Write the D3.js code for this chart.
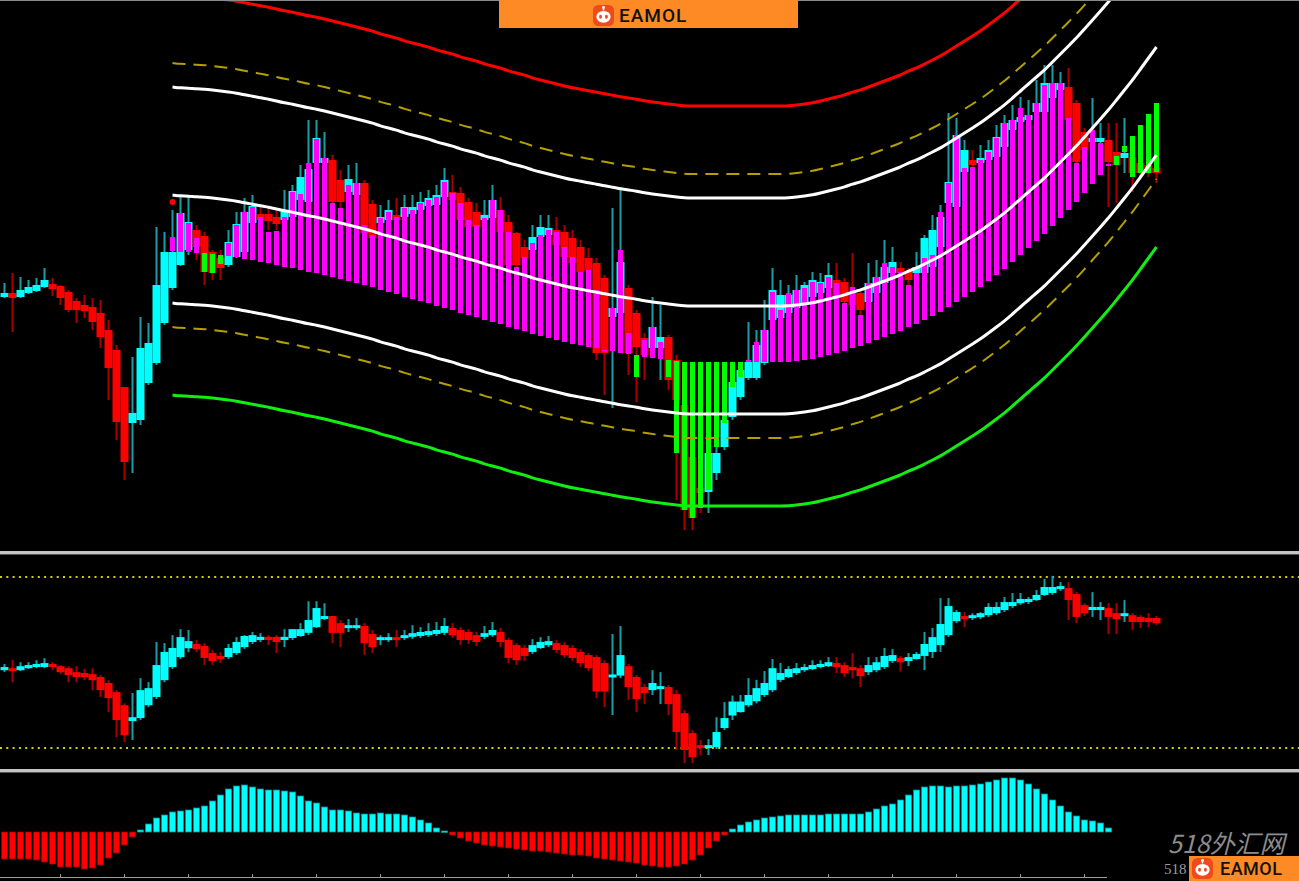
<!DOCTYPE html>
<html><head><meta charset="utf-8">
<script src="https://cdn.jsdelivr.net/npm/d3@7/dist/d3.min.js"></script>
<style>html,body{margin:0;padding:0;background:#000;overflow:hidden}</style>
</head><body>
<svg id="c" width="1299" height="881"></svg>
<script>
// ---------- MAIN PANEL: Heiken-Ashi style candles ----------
const haOpen = [1.2703,1.2707,1.2703,1.2707,1.2709,1.2713,1.2716,1.2714,1.2708,1.2699,
1.2695,1.2693,1.2687,1.2670,1.2650,1.2613,1.2577,1.2580,1.2617,1.2637,
1.2677,1.2712,1.2735,1.2750,1.2770,1.2764,1.2748,1.2742,1.2735,1.2743,
1.2748,1.2777,1.2786,1.2786,1.2783,1.2780,1.2783,1.2800,1.2798,1.2837,
1.2837,1.2840,1.2820,1.2808,1.2805,1.2817,1.2796,1.2777,1.2780,1.2785,
1.2783,1.2786,1.2790,1.2794,1.2795,1.2803,1.2808,1.2807,1.2798,1.2788,
1.2780,1.2782,1.2790,1.2778,1.2767,1.2753,1.2750,1.2763,1.2765,1.2770,
1.2768,1.2762,1.2753,1.2742,1.2737,1.2722,1.2683,1.2687,1.2712,1.2687,
1.2662,1.2652,1.2652,1.2663,1.2640,1.2595,1.2543,1.2512,1.2508,1.2527,
1.2553,1.2583,1.2603,1.2622,1.2622,1.2637,1.2680,1.2682,1.2687,1.2692,
1.2697,1.2703,1.2707,1.2712,1.2720,1.2718,1.2707,1.2707,1.2698,1.2707,
1.2717,1.2727,1.2732,1.2728,1.2727,1.2727,1.2733,1.2753,1.2797,1.2793,
1.2828,1.2840,1.2837,1.2840,1.2843,1.2853,1.2870,1.2878,1.2880,1.2888,
1.2888,1.2902,1.2910,1.2913,1.2897,1.2868,1.2858,1.2858,1.2860,1.2848,
1.2842,1.2843,1.2837,1.2835,1.2832];
const haClose = [1.2707,1.2702,1.2710,1.2713,1.2715,1.2720,1.2711,1.2702,1.2690,1.2690,
1.2689,1.2678,1.2663,1.2632,1.2578,1.2538,1.2587,1.2652,1.2657,1.2715,
1.2748,1.2748,1.2787,1.2778,1.2753,1.2728,1.2727,1.2732,1.2758,1.2776,
1.2788,1.2794,1.2780,1.2779,1.2776,1.2788,1.2809,1.2823,1.2831,1.2862,
1.2842,1.2798,1.2798,1.2821,1.2817,1.2767,1.2762,1.2783,1.2790,1.2780,
1.2793,1.2793,1.2798,1.2802,1.2805,1.2820,1.2800,1.2780,1.2773,1.2773,
1.2785,1.2800,1.2768,1.2735,1.2735,1.2742,1.2763,1.2773,1.2772,1.2755,
1.2743,1.2737,1.2728,1.2730,1.2647,1.2647,1.2692,1.2738,1.2647,1.2653,
1.2645,1.2673,1.2663,1.2620,1.2600,1.2490,1.2482,1.2507,1.2547,1.2547,
1.2580,1.2618,1.2630,1.2638,1.2655,1.2670,1.2710,1.2705,1.2705,1.2710,
1.2715,1.2720,1.2718,1.2725,1.2703,1.2698,1.2695,1.2690,1.2717,1.2723,
1.2733,1.2738,1.2727,1.2720,1.2733,1.2762,1.2770,1.2783,1.2818,1.2865,
1.2850,1.2835,1.2842,1.2850,1.2863,1.2877,1.2880,1.2883,1.2885,1.2897,
1.2917,1.2917,1.2917,1.2880,1.2838,1.2850,1.2862,1.2862,1.2838,1.2835,
1.2847,1.2827,1.2827,1.2827,1.2827];
const barHigh = [1.2717,1.2727,1.2723,1.2720,1.2722,1.2732,1.2722,1.2715,1.2710,1.2702,
1.2705,1.2702,1.2700,1.2680,1.2655,1.2600,1.2643,1.2683,1.2677,1.2773,
1.2768,1.2790,1.2805,1.2803,1.2775,1.2768,1.2750,1.2750,1.2770,1.2788,
1.2802,1.2805,1.2795,1.2792,1.2790,1.2810,1.2815,1.2835,1.2880,1.2880,
1.2868,1.2845,1.2830,1.2835,1.2837,1.2820,1.2800,1.2795,1.2800,1.2802,
1.2805,1.2805,1.2808,1.2810,1.2815,1.2832,1.2825,1.2813,1.2802,1.2797,
1.2800,1.2815,1.2803,1.2785,1.2768,1.2760,1.2775,1.2785,1.2785,1.2783,
1.2775,1.2770,1.2760,1.2752,1.2742,1.2725,1.2792,1.2813,1.2715,1.2690,
1.2667,1.2703,1.2695,1.2665,1.2645,1.2600,1.2550,1.2520,1.2550,1.2560,
1.2585,1.2625,1.2635,1.2678,1.2670,1.2700,1.2732,1.2720,1.2715,1.2725,
1.2718,1.2728,1.2727,1.2737,1.2737,1.2722,1.2747,1.2710,1.2737,1.2740,
1.2760,1.2753,1.2738,1.2732,1.2748,1.2765,1.2785,1.2795,1.2887,1.2882,
1.2860,1.2850,1.2855,1.2860,1.2875,1.2885,1.2895,1.2903,1.2900,1.2920,
1.2935,1.2935,1.2928,1.2932,1.2900,1.2872,1.2902,1.2877,1.2877,1.2877,
1.2882,1.2850,1.2840,1.2837,1.2835];
const barLow = [1.2702,1.2668,1.2702,1.2706,1.2708,1.2712,1.2704,1.2695,1.2688,1.2677,
1.2682,1.2670,1.2652,1.2600,1.2560,1.2520,1.2527,1.2575,1.2615,1.2635,
1.2675,1.2710,1.2734,1.2745,1.2740,1.2715,1.2720,1.2720,1.2733,1.2742,
1.2747,1.2775,1.2772,1.2770,1.2770,1.2778,1.2782,1.2798,1.2797,1.2835,
1.2835,1.2790,1.2790,1.2805,1.2803,1.2760,1.2755,1.2775,1.2775,1.2775,
1.2780,1.2784,1.2788,1.2792,1.2793,1.2798,1.2797,1.2778,1.2770,1.2770,
1.2778,1.2780,1.2765,1.2732,1.2730,1.2738,1.2748,1.2760,1.2760,1.2752,
1.2740,1.2735,1.2725,1.2727,1.2640,1.2605,1.2592,1.2685,1.2625,1.2598,
1.2620,1.2650,1.2620,1.2610,1.2500,1.2470,1.2470,1.2487,1.2487,1.2520,
1.2550,1.2580,1.2600,1.2620,1.2620,1.2635,1.2675,1.2680,1.2685,1.2690,
1.2695,1.2700,1.2705,1.2710,1.2700,1.2695,1.2683,1.2685,1.2695,1.2705,
1.2715,1.2725,1.2715,1.2715,1.2725,1.2725,1.2730,1.2750,1.2795,1.2790,
1.2825,1.2825,1.2835,1.2838,1.2840,1.2850,1.2868,1.2875,1.2878,1.2885,
1.2885,1.2900,1.2908,1.2878,1.2835,1.2845,1.2855,1.2855,1.2793,1.2797,
1.2827,1.2808,1.2820,1.2823,1.2817];

// regression channel (starts at bar regStart)
const regStart = 21;
const regMid = [1.2805,1.2804,1.2804,1.2803,1.2803,1.2802,1.2801,1.2800,1.2799,
1.2797,1.2796,1.2794,1.2793,1.2791,1.2789,1.2788,1.2786,1.2784,1.2783,
1.2781,1.2779,1.2777,1.2775,1.2773,1.2771,1.2769,1.2766,1.2764,1.2762,
1.2759,1.2757,1.2755,1.2753,1.2750,1.2748,1.2746,1.2743,1.2741,1.2739,
1.2736,1.2734,1.2732,1.2729,1.2727,1.2725,1.2722,1.2720,1.2718,1.2716,
1.2714,1.2712,1.2711,1.2709,1.2708,1.2706,1.2705,1.2703,1.2702,1.2701,
1.2699,1.2698,1.2697,1.2696,1.2695,1.2694,1.2694,1.2694,1.2694,1.2694,
1.2694,1.2694,1.2694,1.2694,1.2694,1.2694,1.2694,1.2694,1.2694,1.2695,
1.2696,1.2697,1.2699,1.2701,1.2703,1.2705,1.2708,1.2710,1.2713,1.2716,
1.2719,1.2722,1.2725,1.2729,1.2732,1.2736,1.2740,1.2744,1.2749,1.2754,
1.2759,1.2764,1.2769,1.2775,1.2781,1.2787,1.2794,1.2801,1.2808,1.2815,
1.2822,1.2830,1.2838,1.2846,1.2854,1.2863,1.2872,1.2881,1.2890,1.2900,
1.2910,1.2920,1.2931,1.2942,1.2953];
// histogram end value for each bar (from regStart)
const histVal = [1.2763,1.2787,1.2777,1.2762,1.2728,1.2727,1.2736,1.2757,1.2775,
1.2788,1.2793,1.2783,1.2768,1.2769,1.2783,1.2808,1.2806,1.2837,1.2861,
1.2842,1.2797,1.2792,1.2815,1.2817,1.2775,1.2765,1.2782,1.2788,1.2783,
1.2792,1.2790,1.2797,1.2800,1.2803,1.2818,1.2807,1.2797,1.2780,1.2775,
1.2782,1.2800,1.2790,1.2768,1.2733,1.2743,1.2757,1.2765,1.2770,1.2768,
1.2753,1.2743,1.2728,1.2730,1.2710,1.2650,1.2692,1.2750,1.2667,1.2623,
1.2660,1.2673,1.2658,1.2623,1.2547,1.2490,1.2482,1.2492,1.2510,1.2553,
1.2577,1.2613,1.2623,1.2640,1.2658,1.2670,1.2708,1.2690,1.2707,1.2710,
1.2712,1.2718,1.2717,1.2723,1.2717,1.2697,1.2713,1.2685,1.2717,1.2723,
1.2737,1.2733,1.2728,1.2715,1.2727,1.2742,1.2745,1.2788,1.2817,1.2865,
1.2832,1.2833,1.2840,1.2848,1.2862,1.2877,1.2880,1.2892,1.2885,1.2897,
1.2915,1.2917,1.2917,1.2882,1.2837,1.2853,1.2870,1.2857,1.2836,1.2835,
1.2848,1.2823,1.2827,1.2827,1.2828];
const histOffset = 0.0056;                 // histogram baseline below regression line
const bandOffsets = [0.0200, 0.0132, 0.0108, 0, -0.0108, -0.0132, -0.0200];
const signalBars = [21];
const signalPrices = [1.2798];

// ---------- MIDDLE PANEL: oscillator candles ----------
const oscOpen = [47.3,48.0,47.3,48.0,48.4,48.4,49.5,48.7,48.0,46.6,
46.3,45.9,44.9,42.8,39.6,35.0,29.4,30.5,35.0,37.9,
43.8,48.4,51.9,55.0,56.5,55.8,53.3,52.3,51.9,53.3,
55.4,57.2,57.9,59.0,59.0,57.9,58.6,59.3,60.4,62.4,
65.6,66.3,63.8,62.1,62.4,62.8,60.0,58.2,57.9,58.9,
58.6,59.0,59.3,59.6,60.0,60.4,62.1,61.4,60.7,59.6,
59.0,59.6,60.7,57.9,56.1,55.1,53.7,55.1,56.1,56.8,
56.1,55.1,53.7,52.6,51.9,49.8,45.4,45.4,48.7,44.9,
41.4,40.3,41.4,41.4,38.9,32.2,25.2,21.0,20.3,20.3,
27.0,31.4,32.6,35.0,36.4,38.6,40.3,43.9,44.9,46.3,
47.3,47.7,48.4,48.7,49.8,49.1,48.4,48.0,46.6,47.3,
48.4,50.5,51.6,50.5,51.2,52.3,53.7,56.1,59.6,64.5,
66.3,65.9,65.9,66.6,67.3,68.4,69.8,70.8,71.2,71.9,
73.7,74.4,75.8,76.1,74.0,70.1,68.4,68.4,69.1,67.3,
66.3,66.6,66.0,65.6,65.6];
const oscClose = [48.4,47.0,48.7,49.1,49.5,49.8,48.4,46.6,45.6,44.9,
44.9,43.8,40.3,37.5,29.8,24.5,30.8,40.3,41.0,49.1,
53.7,55.1,58.9,57.5,54.7,51.6,50.5,51.2,55.1,57.2,
59.3,59.6,59.0,57.9,57.2,59.0,61.7,61.7,64.9,69.1,
66.3,60.4,60.4,63.1,63.1,56.8,55.4,58.9,58.9,57.9,
59.6,60.3,60.7,61.0,61.4,62.8,59.6,57.9,57.9,57.2,
60.3,61.4,57.2,51.6,50.8,52.3,56.1,57.2,57.5,54.4,
52.6,51.6,49.8,48.0,39.8,39.8,45.8,52.6,41.4,37.2,
39.3,42.8,41.7,35.4,25.6,19.3,16.8,20.3,21.0,25.6,
30.5,36.3,36.3,38.6,41.0,42.8,48.0,46.3,47.7,48.0,
48.4,49.1,49.5,50.1,48.4,46.3,47.3,45.2,49.1,50.1,
52.3,52.6,50.1,51.9,53.0,56.5,58.9,63.5,69.8,67.7,
65.2,66.6,67.3,69.5,69.5,71.2,71.2,72.3,72.3,73.7,
76.5,76.5,76.8,71.9,66.0,67.3,69.5,69.5,66.0,65.2,
67.3,64.2,64.2,64.2,63.8];
const oscHigh = [49.5,51.0,50.1,50.1,50.8,51.5,50.1,49.1,48.7,48.7,
47.7,48.0,45.6,43.8,40.3,35.7,39.3,44.5,43.1,57.2,
56.8,59.6,61.7,61.4,57.9,56.8,54.4,53.6,56.5,58.9,
59.6,60.7,60.3,59.6,59.6,61.7,61.7,63.8,71.5,71.5,
70.8,66.3,64.9,65.2,65.6,63.8,61.4,59.6,60.3,61.4,
61.4,63.1,62.4,63.8,64.2,65.6,63.8,62.4,61.7,60.7,
62.8,64.2,62.1,58.6,56.8,56.1,58.2,58.9,59.3,57.9,
57.2,56.1,54.7,53.3,52.6,50.8,60.0,62.8,49.5,45.6,
42.4,47.3,46.6,42.1,40.3,33.3,26.3,22.8,23.1,30.8,
36.1,38.4,38.6,44.5,43.9,47.0,51.2,49.8,48.7,49.8,
49.5,50.8,50.8,51.9,51.9,50.1,53.3,49.1,51.9,51.9,
55.1,54.7,52.3,53.3,53.7,60.7,62.1,72.6,72.6,68.4,
67.7,67.3,67.7,70.8,71.2,73.0,74.4,74.4,73.0,75.4,
79.3,80.4,78.2,78.2,74.7,70.8,74.7,71.2,70.8,70.8,
71.9,67.3,66.6,67.3,66.3];
const oscLow = [46.7,43.1,47.0,47.7,48.0,48.0,47.3,45.9,43.1,43.1,
43.8,40.3,37.9,32.6,23.8,22.1,22.8,29.8,34.3,37.2,
43.1,47.7,51.2,53.6,53.6,49.1,49.1,49.8,51.2,52.6,
54.7,56.5,57.2,56.1,53.3,55.4,57.9,59.0,59.6,62.1,
64.9,56.8,55.4,60.7,61.4,52.6,53.3,56.1,57.2,55.4,
57.9,58.2,58.6,59.0,59.3,59.6,58.6,56.1,56.5,55.8,
58.2,59.0,55.4,49.8,49.1,50.5,53.0,54.7,55.4,53.3,
51.6,50.5,48.4,47.0,37.5,34.3,31.6,44.5,36.8,32.6,
35.4,38.6,35.4,31.5,19.3,14.7,14.7,17.5,17.5,19.6,
26.3,29.8,32.4,34.3,35.6,37.9,39.6,43.1,44.5,45.6,
46.7,47.3,48.0,48.4,46.3,44.9,44.5,41.4,45.6,46.6,
47.7,49.8,46.8,48.7,51.0,47.3,51.6,53.7,58.9,63.8,
62.4,64.9,65.2,65.9,66.6,67.7,69.1,70.2,70.5,71.6,
73.3,73.7,75.1,64.9,63.8,66.3,66.0,64.9,60.0,60.0,
64.2,61.4,62.1,62.4,63.1];
const oscLevels = [80, 20];

// ---------- BOTTOM PANEL: trend histogram ----------
const trendHist = [-2.7,-2.7,-2.7,-2.7,-2.8,-3.0,-3.2,-3.5,-3.5,-3.5,
-3.7,-3.6,-3.3,-2.6,-2.1,-1.3,-0.5,0.2,0.8,1.4,
1.7,2.0,2.1,2.2,2.4,2.6,3.1,3.7,4.3,4.6,
4.7,4.5,4.3,4.2,4.2,4.1,4.0,3.6,3.1,2.9,
2.5,2.2,2.2,2.1,1.9,1.8,1.8,1.9,1.8,1.8,
1.7,1.5,1.2,0.9,0.4,0.1,-0.3,-0.6,-0.9,-1.1,
-1.3,-1.4,-1.5,-1.6,-1.7,-1.8,-1.9,-1.9,-2.0,-2.1,
-2.2,-2.3,-2.3,-2.4,-2.6,-2.7,-2.8,-2.9,-3.0,-3.1,
-3.3,-3.4,-3.5,-3.5,-3.4,-3.2,-2.8,-2.3,-1.6,-0.9,
-0.3,0.3,0.7,1.0,1.2,1.4,1.5,1.6,1.7,1.7,
1.7,1.7,1.7,1.8,1.8,1.8,1.8,1.8,2.0,2.3,
2.6,2.8,3.2,3.7,4.2,4.5,4.6,4.6,4.5,4.6,
4.6,4.7,4.8,5.0,5.2,5.4,5.4,5.2,4.8,4.3,
3.8,3.2,2.6,2.0,1.6,1.2,1.1,0.9,0.4];

// ================= DRAWING =================
const W = 1299, H = 881;
const svg = d3.select('#c');
svg.append('rect').attr('width', W).attr('height', H).attr('fill', '#000');
const defs = svg.append('defs');
const clip = (id, y0, y1) => defs.append('clipPath').attr('id', id)
  .append('rect').attr('x', 0).attr('y', y0).attr('width', W).attr('height', y1 - y0);
clip('cMain', 0, 550); clip('cOsc', 555, 768); clip('cTr', 773, 877);

const N = haOpen.length;
const idx = d3.range(N);
const x = d3.scaleBand().domain(idx).range([0.5, 1160.5]).padding(0);
const bw = x.bandwidth();
const cx = i => x(i) + bw / 2;
const yMain = d3.scaleLinear().domain([1.2450, 1.3000]).range([550, 0]);
const yOsc = d3.scaleLinear().domain([20, 80]).range([748, 577]);
const yTr = d3.scaleLinear().domain([0, 1]).range([832, 822]);

const UP = '#00ffff', DN = '#ff0000', WUP = '#1a9ea6', WDN = '#a80000';

// ---- main panel ----
const gM = svg.append('g').attr('clip-path', 'url(#cMain)');
gM.selectAll('line.wk').data(idx).join('line').attr('class', 'wk')
  .attr('x1', cx).attr('x2', cx)
  .attr('y1', i => yMain(barHigh[i])).attr('y2', i => yMain(barLow[i]))
  .attr('stroke', i => haClose[i] >= haOpen[i] ? WUP : WDN).attr('stroke-width', 2);
gM.selectAll('rect.body').data(idx).join('rect').attr('class', 'body')
  .attr('x', i => x(i)).attr('width', bw)
  .attr('y', i => yMain(Math.max(haOpen[i], haClose[i])))
  .attr('height', i => Math.max(3, Math.abs(yMain(haOpen[i]) - yMain(haClose[i]))))
  .attr('fill', i => haClose[i] >= haOpen[i] ? UP : DN);

const regIdx = d3.range(regMid.length);
gM.selectAll('rect.hist').data(regIdx).join('rect').attr('class', 'hist')
  .each(function (k) {
    const i = k + regStart;
    const base = regMid[k] - histOffset;
    const v = histVal[k];
    const y1 = yMain(Math.max(v, base)), y2 = yMain(Math.min(v, base));
    d3.select(this).attr('x', x(i) + 1.5).attr('width', bw - 3)
      .attr('y', y1).attr('height', Math.max(1.5, y2 - y1))
      .attr('fill', v >= base ? '#ff00ff' : '#00ff00');
  });

const bandStyle = [
  {c: '#ff0000', w: 3, d: null}, {c: '#b3a000', w: 2, d: '13,8'}, {c: '#ffffff', w: 3, d: null},
  {c: '#ffffff', w: 3, d: null}, {c: '#ffffff', w: 3, d: null}, {c: '#b3a000', w: 2, d: '13,8'},
  {c: '#11ee11', w: 3, d: null}];
bandOffsets.forEach((off, b) => {
  const line = d3.line().x(k => cx(k + regStart)).y(k => yMain(regMid[k] + off)).curve(d3.curveBasis);
  gM.append('path').attr('d', line(regIdx)).attr('fill', 'none')
    .attr('stroke', bandStyle[b].c).attr('stroke-width', bandStyle[b].w)
    .attr('stroke-dasharray', bandStyle[b].d);
});
gM.selectAll('circle.sig').data(signalBars).join('circle')
  .attr('cx', cx).attr('cy', (d, k) => yMain(signalPrices[k])).attr('r', 3).attr('fill', '#ff0000');

// ---- separators ----
[551, 769].forEach(y => {
  svg.append('rect').attr('x', 0).attr('y', y).attr('width', W).attr('height', 3).attr('fill', '#c4c4c4');
  svg.append('line').attr('x1', 0).attr('x2', W).attr('y1', y + 3.5).attr('y2', y + 3.5).attr('stroke', '#555');
});
svg.append('line').attr('x1', 0).attr('x2', W).attr('y1', 0.5).attr('y2', 0.5).attr('stroke', '#8a8a8a');

// ---- oscillator panel ----
const gO = svg.append('g').attr('clip-path', 'url(#cOsc)');
oscLevels.forEach(l => gO.append('line').attr('x1', 0).attr('x2', W)
  .attr('y1', yOsc(l)).attr('y2', yOsc(l)).attr('stroke', '#d2d200')
  .attr('stroke-width', 2).attr('stroke-dasharray', '2,4.3'));
gO.selectAll('line.owk').data(idx).join('line').attr('class', 'owk')
  .attr('x1', cx).attr('x2', cx)
  .attr('y1', i => yOsc(oscHigh[i])).attr('y2', i => yOsc(oscLow[i]))
  .attr('stroke', i => oscClose[i] >= oscOpen[i] ? WUP : WDN).attr('stroke-width', 2);
gO.selectAll('rect.ob').data(idx).join('rect').attr('class', 'ob')
  .attr('x', i => x(i)).attr('width', bw)
  .attr('y', i => yOsc(Math.max(oscOpen[i], oscClose[i])))
  .attr('height', i => Math.max(3, Math.abs(yOsc(oscOpen[i]) - yOsc(oscClose[i]))))
  .attr('fill', i => oscClose[i] >= oscOpen[i] ? UP : DN);

// ---- trend histogram ----
const gT = svg.append('g').attr('clip-path', 'url(#cTr)');
gT.selectAll('rect.tr').data(d3.range(trendHist.length)).join('rect').attr('class', 'tr')
  .attr('x', i => x(i) + 1).attr('width', bw - 2)
  .attr('y', i => Math.min(yTr(0), yTr(trendHist[i])))
  .attr('height', i => Math.max(1.5, Math.abs(yTr(trendHist[i]) - yTr(0))))
  .attr('fill', i => trendHist[i] >= 0 ? UP : DN)
  .attr('stroke', i => trendHist[i] >= 0 ? '#0b8c8c' : '#9a0000').attr('stroke-width', 0.8);

// bottom time axis (ticks only)
const axisG = svg.append('g').attr('transform', 'translate(0,877)');
axisG.call(d3.axisTop(x).tickValues(d3.range(7, 138, 8)).tickSize(3).tickFormat(''))
  .call(g => g.select('.domain').remove())
  .call(g => g.selectAll('line').attr('stroke', '#9a9a9a'));
axisG.append('line').attr('x1', 0).attr('x2', 1107).attr('y1', 0.5).attr('y2', 0.5).attr('stroke', '#9a9a9a');

// ---- logos / watermark ----
function logo(x0, y0, w, h, ix, iy, tx, ty, fs, isz, ls) {
  svg.append('rect').attr('x', x0).attr('y', y0).attr('width', w).attr('height', h).attr('fill', '#fd8a24');
  svg.append('rect').attr('x', ix).attr('y', iy).attr('width', isz).attr('height', isz)
    .attr('rx', isz * 0.25).attr('fill', '#ee4a1c');
  const c = ix + isz / 2, m = iy + isz * 0.56;
  svg.append('line').attr('x1', c).attr('x2', c).attr('y1', m - isz * 0.3).attr('y2', m - isz * 0.42)
    .attr('stroke', '#fff').attr('stroke-width', 1.5);
  svg.append('circle').attr('cx', c).attr('cy', m - isz * 0.44).attr('r', isz * 0.07).attr('fill', '#fff');
  svg.append('ellipse').attr('cx', c).attr('cy', m).attr('rx', isz * 0.34).attr('ry', isz * 0.28).attr('fill', '#fff');
  [-1, 1].forEach(s => svg.append('ellipse').attr('cx', c + s * isz * 0.14).attr('cy', m)
    .attr('rx', isz * 0.07).attr('ry', isz * 0.09).attr('fill', '#ee4a1c'));
  svg.append('text').attr('x', tx).attr('y', ty).attr('font-family', 'Roboto, sans-serif')
    .attr('font-weight', 500).attr('font-size', fs).attr('letter-spacing', ls)
    .attr('fill', '#111').text('EAMOL');
}
logo(499, -1, 299, 29, 593, 5, 619, 22, 19, 21, 1);
svg.append('text').attr('x', 1168).attr('y', 853).attr('font-family', '"Noto Sans CJK SC", sans-serif')
  .attr('font-style', 'italic').attr('font-size', 25).attr('fill', '#8c8c8c').text('518外汇网');
svg.append('text').attr('x', 1164).attr('y', 874).attr('font-family', '"Liberation Serif", serif')
  .attr('font-size', 15).attr('fill', '#9a9a9a').text('518');
logo(1189, 856, 110, 25, 1192, 858, 1220, 875, 18, 21, 0.5);
</script>
</body></html>
